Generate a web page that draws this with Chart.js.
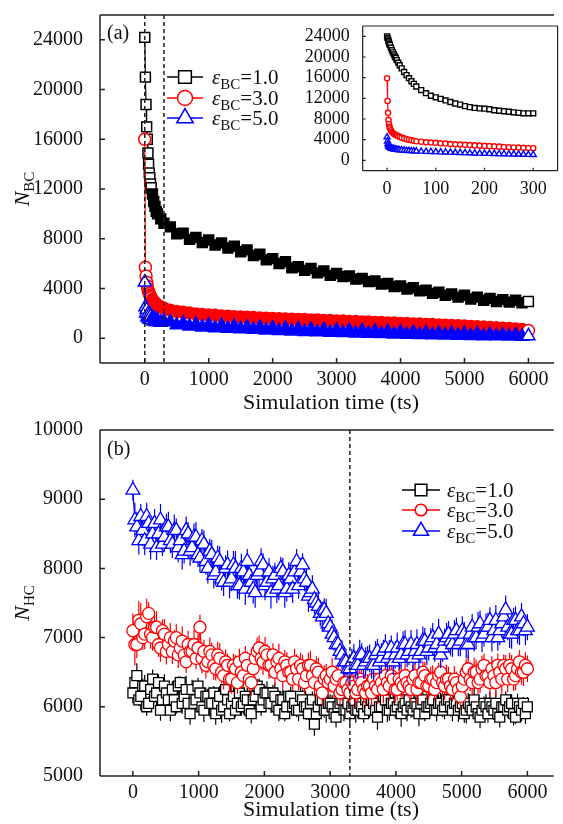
<!DOCTYPE html>
<html>
<head>
<meta charset="utf-8">
<script src="https://cdn.jsdelivr.net/npm/chart.js@4.4.0/dist/chart.umd.min.js"></script>
<style>
  body { margin: 0; background: #fff; }
  #wrap { position: relative; width: 563px; height: 824px; overflow: hidden; background: #fff; }
  canvas { position: absolute; }
  #chartA { left: 0; top: 0; }
  #chartInset { left: 300px; top: 0; }
  #chartB { left: 0; top: 410px; }
</style>
</head>
<body>
<div id="wrap">
  <canvas id="chartB" width="563" height="414"></canvas>
  <canvas id="chartA" width="563" height="420"></canvas>
  <canvas id="chartInset" width="263" height="200"></canvas>
</div>
<script>
// ---------- panel (a): N_BC vs simulation time ----------
const timeA = [0, 10, 20, 30, 40, 50, 60, 70, 80, 90, 100, 120, 140, 160, 180, 200, 250, 300,
  400, 500, 600, 700, 800, 900, 1000, 1100, 1200, 1300, 1400, 1500, 1600, 1700, 1800, 1900,
  2000, 2100, 2200, 2300, 2400, 2500, 2600, 2700, 2800, 2900, 3000, 3100, 3200, 3300, 3400, 3500,
  3600, 3700, 3800, 3900, 4000, 4100, 4200, 4300, 4400, 4500, 4600, 4700, 4800, 4900, 5000, 5100,
  5200, 5300, 5400, 5500, 5600, 5700, 5800, 5900, 6000];
const bcEps1 = [24200, 21000, 18800, 17000, 16000, 14900, 14000, 13300, 12900, 12400, 12100, 11600, 11000, 10600, 10200, 10000, 9600, 9250,
  8950, 8400, 8450, 7950, 8100, 7700, 7900, 7500, 7650, 7250, 7400, 6950, 7100, 6650, 6750, 6300,
  6400, 6000, 6150, 5650, 5750, 5450, 5600, 5250, 5400, 5050, 5200, 4950, 5000, 4750, 4800, 4550,
  4600, 4350, 4400, 4150, 4200, 3950, 4050, 3800, 3850, 3600, 3700, 3450, 3550, 3300, 3450, 3150,
  3300, 3050, 3200, 2950, 3100, 2900, 3050, 2850, 2950];
const bcEps3 = [16000, 5700, 5000, 4500, 4200, 3950, 3750, 3600, 3450, 3350, 3250, 3100, 2950, 2850, 2750, 2650, 2500, 2400,
  2250, 2150, 2080, 2020, 1940, 1910, 1860, 1840, 1790, 1770, 1730, 1710, 1680, 1660, 1630, 1610,
  1580, 1570, 1540, 1530, 1500, 1490, 1460, 1450, 1420, 1410, 1380, 1370, 1340, 1330, 1300, 1290,
  1260, 1250, 1220, 1210, 1180, 1170, 1140, 1130, 1100, 1090, 1060, 1040, 1010, 990, 970, 940,
  920, 890, 860, 830, 800, 770, 730, 690, 620];
const bcEps5 = [4500, 2500, 2000, 2300, 1700, 1950, 1600, 1850, 1500, 1750, 1450, 1650, 1350, 1550, 1300, 1450, 1250, 1350,
  1300, 1050, 1200, 950, 1100, 880, 1050, 820, 1000, 780, 950, 730, 900, 690, 860, 640,
  820, 600, 780, 560, 740, 520, 710, 490, 680, 460, 640, 430, 610, 400, 580, 370,
  550, 350, 520, 320, 490, 300, 460, 280, 430, 260, 400, 240, 380, 220, 350, 200,
  330, 180, 300, 170, 280, 150, 260, 140, 180];

// inset of (a): first 300 ts
const timeInset = [0, 1, 2, 3, 4, 5, 6, 8, 10, 12, 14, 16, 18, 20, 23, 26, 30, 35, 40, 45, 50, 55, 60,
  70, 80, 90, 100, 110, 120, 130, 140, 150, 160, 170, 180, 190, 200, 210, 220, 230, 240, 250, 260, 270, 280, 290, 300];
const insetEps1 = [24000, 23700, 23400, 23100, 22800, 22500, 22300, 21800, 21300, 20900, 20500, 20100, 19800, 19400,
  18900, 18400, 17800, 17100, 16500, 15900, 15300, 14800, 14300,
  13600, 13000, 12500, 12200, 11900, 11600, 11300, 11000, 10800, 10500, 10300, 10150, 10050, 10000,
  9900, 9700, 9600, 9500, 9400, 9300, 9200, 9100, 9100, 9100];
const insetEps3 = [15900, 11500, 9200, 7800, 7000, 6500, 6200, 5800, 5500, 5300, 5150, 5000, 4900, 4800,
  4650, 4550, 4400, 4250, 4100, 4000, 3900, 3800, 3700,
  3600, 3500, 3450, 3400, 3300, 3250, 3150, 3100, 3050, 3000, 2950, 2900, 2850, 2800,
  2750, 2700, 2650, 2600, 2550, 2500, 2470, 2430, 2400, 2350];
const insetEps5 = [4500, 3700, 3200, 2900, 2700, 2600, 2500, 2400, 2300, 2250, 2200, 2150, 2100, 2080,
  2050, 2000, 1980, 1940, 1900, 1860, 1830, 1800, 1780,
  1740, 1700, 1670, 1640, 1600, 1570, 1540, 1510, 1480, 1450, 1420, 1390, 1360, 1340,
  1310, 1290, 1260, 1240, 1210, 1190, 1170, 1140, 1120, 1100];

// ---------- panel (b): N_HC vs simulation time ----------
const timeB = [0, 30, 60, 90, 120, 150, 180, 210, 240, 270,
  300, 330, 360, 390, 420, 450, 480, 510, 540, 570,
  600, 630, 660, 690, 720, 750, 780, 810, 840, 870,
  900, 930, 960, 990, 1020, 1050, 1080, 1110, 1140, 1170,
  1200, 1230, 1260, 1290, 1320, 1350, 1380, 1410, 1440, 1470,
  1500, 1530, 1560, 1590, 1620, 1650, 1680, 1710, 1740, 1770,
  1800, 1830, 1860, 1890, 1920, 1950, 1980, 2010, 2040, 2070,
  2100, 2130, 2160, 2190, 2220, 2250, 2280, 2310, 2340, 2370,
  2400, 2430, 2460, 2490, 2520, 2550, 2580, 2610, 2640, 2670,
  2700, 2730, 2760, 2790, 2820, 2850, 2880, 2910, 2940, 2970,
  3000, 3030, 3060, 3090, 3120, 3150, 3180, 3210, 3240, 3270,
  3300, 3330, 3360, 3390, 3420, 3450, 3480, 3510, 3540, 3570,
  3600, 3630, 3660, 3690, 3720, 3750, 3780, 3810, 3840, 3870,
  3900, 3930, 3960, 3990, 4020, 4050, 4080, 4110, 4140, 4170,
  4200, 4230, 4260, 4290, 4320, 4350, 4380, 4410, 4440, 4470,
  4500, 4530, 4560, 4590, 4620, 4650, 4680, 4710, 4740, 4770,
  4800, 4830, 4860, 4890, 4920, 4950, 4980, 5010, 5040, 5070,
  5100, 5130, 5160, 5190, 5220, 5250, 5280, 5310, 5340, 5370,
  5400, 5430, 5460, 5490, 5520, 5550, 5580, 5610, 5640, 5670,
  5700, 5730, 5760, 5790, 5820, 5850, 5880, 5910, 5940, 5970,
  6000];
const hcEps1 = [6200, 6350, 6450, 6100, 6150, 6300, 6300, 6000, 6050, 6250,
  6400, 6150, 6200, 6350, 5950, 6100, 6300, 6200, 6100, 5950,
  6250, 6100, 6000, 6300, 6350, 6050, 6150, 6250, 6050, 5900,
  6250, 6050, 6100, 6300, 6200, 6000, 5950, 6150, 6150, 6050,
  6050, 6200, 5900, 6050, 6150, 5950, 6000, 6250, 6100, 5900,
  6050, 6150, 5950, 6050, 6200, 6000, 6050, 6150, 6100, 5950,
  5900, 6100, 6150, 6300, 6250, 6000, 6100, 6200, 6200, 6050,
  6050, 6200, 6150, 6000, 5950, 6100, 6100, 5900, 6000, 6150,
  6150, 6000, 6050, 5950, 5950, 6150, 6100, 6000, 6000, 5900,
  6050, 6100, 5750, 5900, 6000, 6100, 6100, 5950, 5950, 6050,
  6050, 6000, 5900, 5850, 6000, 6050, 6100, 5950, 5950, 6050,
  5900, 6000, 6050, 5950, 5950, 6050, 6000, 5900, 6100, 6000,
  5950, 6100, 6050, 5950, 5850, 6000, 6000, 6150, 6100, 5950,
  5950, 6050, 6050, 5950, 6000, 6100, 5900, 6000, 6050, 5950,
  6100, 6000, 5950, 6050, 6000, 5900, 6050, 6100, 5900, 6000,
  6000, 6050, 6100, 5950, 5950, 6050, 6050, 5950, 6000, 6100,
  6100, 6000, 5950, 6050, 6050, 5950, 6000, 6050, 5900, 5950,
  6050, 6000, 5950, 6100, 6000, 5900, 5850, 5950, 6050, 6000,
  5900, 6050, 6000, 5950, 6050, 5900, 5850, 6000, 6000, 6100,
  5950, 6000, 6050, 5900, 5850, 6050, 6000, 5950, 6050, 5900,
  6000];
const hcErr1 = [150, 120, 180, 90, 200, 110, 160, 130, 100, 170,
  140, 90, 190, 120, 150, 100, 170, 130, 110, 160,
  120, 180, 100, 140, 90, 150, 130, 200, 110, 160,
  140, 100, 180, 120, 150, 90, 170, 130, 110, 190,
  140, 100, 160, 120, 150, 180, 90, 130, 170, 110,
  140, 160, 100, 120, 190, 130, 150, 90, 170, 110,
  140, 120, 180, 100, 160, 130, 150, 110, 170, 90,
  140, 120, 190, 100, 160, 130, 150, 110, 180, 90,
  140, 120, 170, 100, 160, 130, 150, 110, 190, 90,
  140, 120, 170, 100, 160, 130, 150, 110, 180, 120,
  130, 170, 110, 150, 90, 190, 120, 160, 100, 140,
  160, 100, 140, 180, 120, 90, 170, 130, 150, 110,
  110, 150, 130, 90, 180, 120, 160, 100, 140, 170,
  150, 90, 170, 120, 140, 110, 190, 130, 100, 160,
  120, 160, 100, 150, 130, 180, 90, 140, 110, 170,
  170, 110, 140, 90, 160, 120, 150, 100, 180, 130,
  100, 140, 160, 120, 90, 170, 110, 150, 130, 190,
  150, 120, 90, 170, 130, 110, 160, 140, 100, 180,
  130, 160, 110, 140, 180, 100, 150, 90, 170, 120,
  110, 150, 130, 170, 100, 140, 120, 160, 90, 150,
  140];
const hcEps3 = [7100, 6900, 6900, 7250, 7200, 7000, 7050, 7300, 7350, 7050,
  7000, 7150, 7150, 6900, 6850, 7100, 7050, 6800, 6900, 7000,
  6800, 6950, 7000, 6750, 6850, 6950, 6750, 6650, 6900, 6800,
  6800, 6900, 6700, 6850, 7150, 6700, 6800, 6600, 6650, 6800,
  6750, 6600, 6550, 6750, 6700, 6500, 6450, 6650, 6600, 6400,
  6400, 6600, 6550, 6350, 6650, 6500, 6450, 6700, 6600, 6400,
  6350, 6550, 6700, 6800, 6850, 6700, 6650, 6800, 6750, 6600,
  6600, 6750, 6500, 6650, 6700, 6550, 6450, 6650, 6600, 6500,
  6500, 6400, 6650, 6550, 6400, 6600, 6550, 6350, 6450, 6600,
  6600, 6450, 6350, 6550, 6500, 6300, 6200, 6400, 6450, 6350,
  6400, 6500, 6300, 6400, 6450, 6200, 6250, 6350, 6350, 6250,
  6200, 6350, 6300, 6200, 6250, 6400, 6350, 6250, 6200, 6300,
  6300, 6200, 6400, 6300, 6250, 6400, 6350, 6250, 6450, 6350,
  6300, 6450, 6400, 6250, 6250, 6400, 6350, 6300, 6450, 6350,
  6300, 6250, 6400, 6450, 6250, 6350, 6350, 6500, 6450, 6300,
  6300, 6400, 6400, 6250, 6350, 6450, 6500, 6350, 6300, 6400,
  6400, 6300, 6250, 6400, 6350, 6250, 6150, 6300, 6400, 6500,
  6550, 6400, 6350, 6500, 6500, 6350, 6400, 6550, 6600, 6450,
  6450, 6350, 6550, 6450, 6350, 6600, 6500, 6400, 6600, 6550,
  6400, 6600, 6550, 6400, 6450, 6550, 6650, 6500, 6500, 6600,
  6550];
const hcErr3 = [250, 300, 200, 280, 300, 180, 220, 260, 160, 210,
  190, 170, 230, 180, 200, 160, 220, 190, 170, 210,
  180, 160, 200, 190, 170, 210, 180, 160, 200, 190,
  170, 210, 160, 200, 180, 220, 170, 190, 160, 200,
  180, 210, 170, 190, 220, 160, 200, 180, 170, 190,
  210, 170, 200, 160, 190, 220, 170, 180, 200, 170,
  190, 210, 160, 200, 180, 170, 190, 210, 160, 200,
  180, 170, 190, 160, 210, 180, 200, 170, 190, 180,
  200, 170, 190, 210, 160, 180, 200, 170, 190, 180,
  210, 170, 200, 180, 210, 160, 190, 200, 170, 180,
  190, 210, 170, 200, 180, 190, 160, 210, 180, 170,
  200, 180, 170, 210, 190, 160, 200, 180, 210, 170,
  180, 200, 190, 170, 210, 180, 160, 200, 190, 170,
  210, 170, 180, 200, 160, 190, 210, 170, 180, 200,
  170, 190, 210, 180, 200, 170, 190, 160, 200, 180,
  190, 180, 200, 170, 210, 190, 160, 180, 200, 210,
  180, 200, 170, 190, 160, 210, 180, 200, 170, 190,
  200, 170, 190, 210, 180, 160, 200, 190, 170, 180,
  170, 210, 180, 200, 190, 170, 180, 210, 160, 200,
  190, 180, 200, 170, 210, 190, 170, 180, 200, 190,
  190];
const hcEps5 = [9130, 8700, 8600, 8400, 8750, 8550, 8400, 8750, 8650, 8350,
  8500, 8650, 8300, 8500, 8700, 8350, 8450, 8600, 8600, 8400,
  8350, 8550, 8550, 8300, 8400, 8200, 8250, 8550, 8500, 8250,
  8300, 8450, 8450, 8200, 8150, 8400, 8350, 8100, 8000, 8250,
  8200, 7900, 7950, 8150, 8100, 7850, 7800, 8000, 8050, 7800,
  7850, 8050, 8000, 7750, 7750, 8000, 7950, 7700, 8100, 7900,
  7800, 7700, 7650, 7900, 7950, 8100, 8050, 7750, 7800, 7950,
  7650, 7850, 7900, 7700, 7750, 8000, 7950, 7650, 7700, 7900,
  7850, 7700, 7950, 8100, 7750, 7950, 8050, 7850, 7800, 7600,
  7650, 7700, 7550, 7500, 7450, 7350, 7300, 7400, 7350, 7200,
  7150, 7050, 7000, 6900, 6900, 6800, 6750, 6650, 6650, 6550,
  6550, 6650, 6700, 6600, 6600, 6750, 6750, 6600, 6650, 6700,
  6700, 6600, 6600, 6750, 6800, 6650, 6700, 6800, 6850, 6700,
  6750, 6850, 6650, 6750, 6850, 6700, 6750, 6900, 6900, 6750,
  6800, 6900, 6700, 6800, 6900, 6750, 6800, 6950, 6950, 6800,
  6850, 6950, 7000, 6850, 6900, 7050, 6750, 6850, 6950, 7000,
  7050, 6950, 6900, 7050, 7100, 6900, 6950, 7100, 7050, 6900,
  6900, 7050, 7150, 7000, 7000, 7150, 7200, 7000, 7050, 7150,
  7150, 7250, 7000, 7100, 7250, 7000, 7100, 7200, 7300, 7400,
  7150, 7050, 7050, 7250, 7250, 7100, 7100, 7300, 7200, 7100,
  7150];
const hcErr5 = [150, 250, 220, 200, 180, 230, 210, 200, 170, 220,
  190, 210, 180, 200, 230, 170, 210, 190, 220, 180,
  200, 230, 170, 210, 190, 220, 180, 200, 170, 210,
  190, 200, 220, 180, 210, 170, 200, 190, 220, 180,
  210, 190, 200, 180, 220, 170, 200, 190, 210, 230,
  180, 200, 250, 190, 200, 210, 170, 230, 180, 200,
  190, 210, 220, 180, 200, 190, 170, 210, 180, 200,
  230, 190, 180, 200, 210, 170, 200, 220, 180, 190,
  210, 200, 220, 180, 190, 200, 170, 180, 210, 230,
  190, 200, 210, 180, 200, 190, 220, 170, 210, 180,
  200, 210, 190, 200, 180, 170, 210, 220, 190, 200,
  180, 190, 210, 200, 190, 220, 170, 200, 210, 180,
  200, 190, 210, 200, 180, 190, 220, 170, 200, 190,
  210, 180, 190, 200, 220, 170, 200, 190, 210, 180,
  200, 210, 180, 190, 220, 200, 170, 210, 190, 200,
  180, 190, 210, 200, 170, 220, 190, 200, 180, 210,
  190, 210, 180, 200, 190, 170, 220, 210, 180, 200,
  210, 180, 190, 200, 170, 220, 190, 210, 180, 200,
  210, 190, 200, 180, 220, 190, 210, 200, 180, 210,
  190, 200, 210, 180, 200, 190, 210, 200, 180, 210,
  190];

const epsLabels = ['1.0', '3.0', '5.0'];
const tickTimeA = [0, 1000, 2000, 3000, 4000, 5000, 6000];
const tickBC = [0, 4000, 8000, 12000, 16000, 20000, 24000];
const tickInsetX = [0, 100, 200, 300];
const tickHC = [5000, 6000, 7000, 8000, 9000, 10000];
const dashA = [0, 300];
const dashB = [3300];

// ---------- styling ----------
const SERIF = "'Liberation Serif', 'Times New Roman', serif";
const colors = ['#000000', '#ff0000', '#0000ff'];
const shapes = ['rect', 'circle', 'triangle'];
Chart.defaults.font.family = SERIF;
Chart.defaults.color = '#111';

const pts = (xs, ys) => xs.map((x, i) => ({ x: x, y: ys[i] }));

function fixAxis(size, horizontal) {
  return function (scale) {
    if (horizontal) scale.height = size; else scale.width = size;
    scale.paddingLeft = scale.paddingRight = scale.paddingTop = scale.paddingBottom = 0;
  };
}
function setTicks(values) {
  return function (scale) { scale.ticks = values.map(v => ({ value: v })); };
}
function axis(min, max, ticks, size, horizontal, fontSize, pad) {
  return {
    type: 'linear', min: min, max: max,
    afterBuildTicks: setTicks(ticks),
    afterFit: fixAxis(size, horizontal),
    grid: { display: false }, border: { display: false },
    ticks: { font: { size: fontSize }, color: '#111', padding: pad, maxRotation: 0, autoSkip: false,
      callback: v => String(v) }
  };
}

function drawMarker(ctx, shape, x, y, r) {
  ctx.beginPath();
  if (shape === 'rect') {
    const s = r * Math.SQRT1_2;
    ctx.rect(x - s, y - s, 2 * s, 2 * s);
  } else if (shape === 'circle') {
    ctx.arc(x, y, r, 0, Math.PI * 2);
  } else {
    ctx.moveTo(x, y - r);
    ctx.lineTo(x + Math.sin(Math.PI * 2 / 3) * r, y + r / 2);
    ctx.lineTo(x - Math.sin(Math.PI * 2 / 3) * r, y + r / 2);
    ctx.closePath();
  }
  ctx.fill();
  ctx.stroke();
}

// frame, inward ticks, dashed markers
const decorPlugin = {
  id: 'decor',
  afterDatasetsDraw(chart, args, o) {
    const ctx = chart.ctx, a = chart.chartArea;
    const sx = chart.scales.x, sy = chart.scales.y;
    ctx.save();
    ctx.strokeStyle = '#222';
    ctx.lineWidth = o.lineWidth;
    ctx.setLineDash([4, 3]);
    (o.dashAt || []).forEach(v => {
      const px = sx.getPixelForValue(v);
      ctx.beginPath(); ctx.moveTo(px, a.top); ctx.lineTo(px, a.bottom); ctx.stroke();
    });
    ctx.setLineDash([]);
    ctx.beginPath();
    if (o.sides.includes('top')) { ctx.moveTo(a.left, a.top); ctx.lineTo(a.right, a.top); }
    if (o.sides.includes('right')) { ctx.moveTo(a.right, a.top); ctx.lineTo(a.right, a.bottom); }
    ctx.moveTo(a.left, a.top); ctx.lineTo(a.left, a.bottom);
    ctx.moveTo(a.left, a.bottom); ctx.lineTo(a.right, a.bottom);
    sx.ticks.forEach(t => {
      const px = sx.getPixelForValue(t.value);
      ctx.moveTo(px, a.bottom); ctx.lineTo(px, a.bottom - o.tickLen);
    });
    sy.ticks.forEach(t => {
      const py = sy.getPixelForValue(t.value);
      ctx.moveTo(a.left, py); ctx.lineTo(a.left + o.tickLen, py);
    });
    ctx.stroke();
    ctx.restore();
  }
};

// vertical error bars, drawn under each series
const errorBarPlugin = {
  id: 'errbars',
  beforeDatasetDraw(chart, args) {
    const ds = chart.data.datasets[args.index];
    if (!ds.errorBars) return;
    const ctx = chart.ctx, a = chart.chartArea;
    const sx = chart.scales.x, sy = chart.scales.y;
    ctx.save();
    ctx.beginPath(); ctx.rect(a.left, a.top, a.right - a.left, a.bottom - a.top); ctx.clip();
    ctx.strokeStyle = ds.borderColor;
    ctx.lineWidth = 1.2;
    ctx.beginPath();
    ds.data.forEach((p, i) => {
      const e = ds.errorBars[i];
      if (e == null) return;
      const px = sx.getPixelForValue(p.x);
      ctx.moveTo(px, sy.getPixelForValue(p.y - e));
      ctx.lineTo(px, sy.getPixelForValue(p.y + e));
    });
    ctx.stroke();
    ctx.restore();
  }
};

// panel letter, axis titles with subscripts, legend
const textPlugin = {
  id: 'texts',
  afterDraw(chart, args, o) {
    const ctx = chart.ctx;
    ctx.save();
    ctx.fillStyle = '#111';
    ctx.font = '20px ' + SERIF;
    ctx.textAlign = 'left';
    ctx.textBaseline = 'alphabetic';
    ctx.fillText(o.panel.text, o.panel.x, o.panel.y);

    ctx.font = '22px ' + SERIF;
    ctx.textAlign = 'center';
    ctx.textBaseline = 'middle';
    ctx.fillText(o.xTitle.text, o.xTitle.x, o.xTitle.y);

    ctx.textAlign = 'left';
    ctx.textBaseline = 'alphabetic';
    ctx.save();
    ctx.translate(o.yTitle.x, o.yTitle.y);
    ctx.rotate(-Math.PI / 2);
    ctx.font = 'italic 22px ' + SERIF;
    const wN = ctx.measureText('N').width;
    ctx.font = '15px ' + SERIF;
    const wS = ctx.measureText(o.yTitle.sub).width;
    const x0 = -(wN + wS) / 2;
    ctx.font = 'italic 22px ' + SERIF;
    ctx.fillText('N', x0, 0);
    ctx.font = '15px ' + SERIF;
    ctx.fillText(o.yTitle.sub, x0 + wN, 5);
    ctx.restore();

    const lg = o.legend;
    lg.rows.forEach((ry, k) => {
      ctx.strokeStyle = colors[k];
      ctx.lineWidth = 1.5;
      ctx.beginPath(); ctx.moveTo(lg.x0, ry); ctx.lineTo(lg.x1, ry); ctx.stroke();
      ctx.fillStyle = '#fff';
      drawMarker(ctx, shapes[k], (lg.x0 + lg.x1) / 2, ry, lg.radii[k]);
      ctx.fillStyle = '#111';
      let tx = lg.tx;
      const by = ry + 7;
      ctx.font = 'italic 21px ' + SERIF;
      ctx.fillText('ε', tx, by); tx += ctx.measureText('ε').width;
      ctx.font = '15px ' + SERIF;
      ctx.fillText('BC', tx, by + 5); tx += ctx.measureText('BC').width;
      ctx.font = '21px ' + SERIF;
      ctx.fillText('=' + epsLabels[k], tx, by);
    });
    ctx.restore();
  }
};

const basePlugins = { legend: { display: false }, tooltip: { enabled: false } };

// ---------- chart (a) ----------
const seriesA = [bcEps1, bcEps3, bcEps5];
const radiiA = [7, 6, 7.5];
new Chart(document.getElementById('chartA'), {
  type: 'scatter',
  data: {
    datasets: seriesA.map((vals, k) => ({
      label: 'εBC=' + epsLabels[k],
      data: pts(timeA, vals),
      showLine: true,
      borderColor: colors[k],
      borderWidth: 1.2,
      pointStyle: shapes[k],
      pointRadius: radiiA[k],
      pointBorderWidth: 1.5,
      pointBorderColor: colors[k],
      pointBackgroundColor: c => (timeA[c.dataIndex] <= 100 || c.dataIndex === timeA.length - 1) ? '#fff' : colors[k],
      order: 2 - k
    }))
  },
  options: {
    responsive: false, animation: false, events: [],
    layout: { padding: { top: 15, left: 0, right: 0, bottom: 0 } },
    plugins: Object.assign({}, basePlugins, {
      decor: { sides: ['top'], tickLen: 5, lineWidth: 1.5, dashAt: dashA },
      texts: {
        panel: { text: '(a)', x: 107, y: 39 },
        xTitle: { text: 'Simulation time (ts)', x: 331, y: 403 },
        yTitle: { sub: 'BC', x: 29, y: 189 },
        legend: { x0: 167, x1: 203, tx: 212, rows: [77, 98, 118], radii: [9, 7.5, 9.5] }
      }
    }),
    scales: {
      x: axis(-700, 6400, tickTimeA, 57, true, 20, -3),
      y: axis(-2000, 26000, tickBC, 100, false, 20, 9)
    }
  },
  plugins: [decorPlugin, textPlugin]
});

// ---------- inset of (a) ----------
const seriesInset = [insetEps1, insetEps3, insetEps5];
const radiiInset = [3.5, 2.6, 3.5];
new Chart(document.getElementById('chartInset'), {
  type: 'scatter',
  data: {
    datasets: seriesInset.map((vals, k) => ({
      data: pts(timeInset, vals),
      showLine: true,
      borderColor: colors[k],
      borderWidth: 1.2,
      pointStyle: shapes[k],
      pointRadius: radiiInset[k],
      pointBorderWidth: 1.4,
      pointBorderColor: colors[k],
      pointBackgroundColor: '#fff',
      order: 2 - k
    }))
  },
  options: {
    responsive: false, animation: false, events: [],
    layout: { padding: { top: 26, left: 0, right: 5, bottom: 0 } },
    plugins: Object.assign({}, basePlugins, {
      decor: { sides: ['top', 'right'], tickLen: 3, lineWidth: 1.2, dashAt: [] }
    }),
    scales: {
      x: axis(-50, 350, tickInsetX, 29.3, true, 18, 0),
      y: axis(-2000, 26000, tickBC, 62.7, false, 18, 5)
    }
  },
  plugins: [decorPlugin]
});

// ---------- chart (b) ----------
const seriesB = [hcEps1, hcEps3, hcEps5];
const errorsB = [hcErr1, hcErr3, hcErr5];
const radiiB = [7, 6, 8];
new Chart(document.getElementById('chartB'), {
  type: 'scatter',
  data: {
    datasets: seriesB.map((vals, k) => ({
      label: 'εBC=' + epsLabels[k],
      data: pts(timeB, vals),
      errorBars: errorsB[k],
      showLine: true,
      borderColor: colors[k],
      borderWidth: 1.2,
      pointStyle: shapes[k],
      pointRadius: radiiB[k],
      pointBorderWidth: 1.3,
      pointBorderColor: colors[k],
      pointBackgroundColor: '#fff',
      order: 2 - k
    }))
  },
  options: {
    responsive: false, animation: false, events: [],
    layout: { padding: { top: 20, left: 0, right: 0, bottom: 0 } },
    plugins: Object.assign({}, basePlugins, {
      decor: { sides: ['top'], tickLen: 5, lineWidth: 1.5, dashAt: dashB },
      texts: {
        panel: { text: '(b)', x: 107, y: 45 },
        xTitle: { text: 'Simulation time (ts)', x: 331, y: 400 },
        yTitle: { sub: 'HC', x: 29, y: 193 },
        legend: { x0: 402, x1: 440, tx: 447, rows: [80, 100, 121], radii: [8.3, 5.8, 8.7] }
      }
    }),
    scales: {
      x: axis(-500, 6400, tickTimeA, 48, true, 20, -3),
      y: axis(5000, 10000, tickHC, 100, false, 20, 9)
    }
  },
  plugins: [decorPlugin, errorBarPlugin, textPlugin]
});
</script>
</body>
</html>
